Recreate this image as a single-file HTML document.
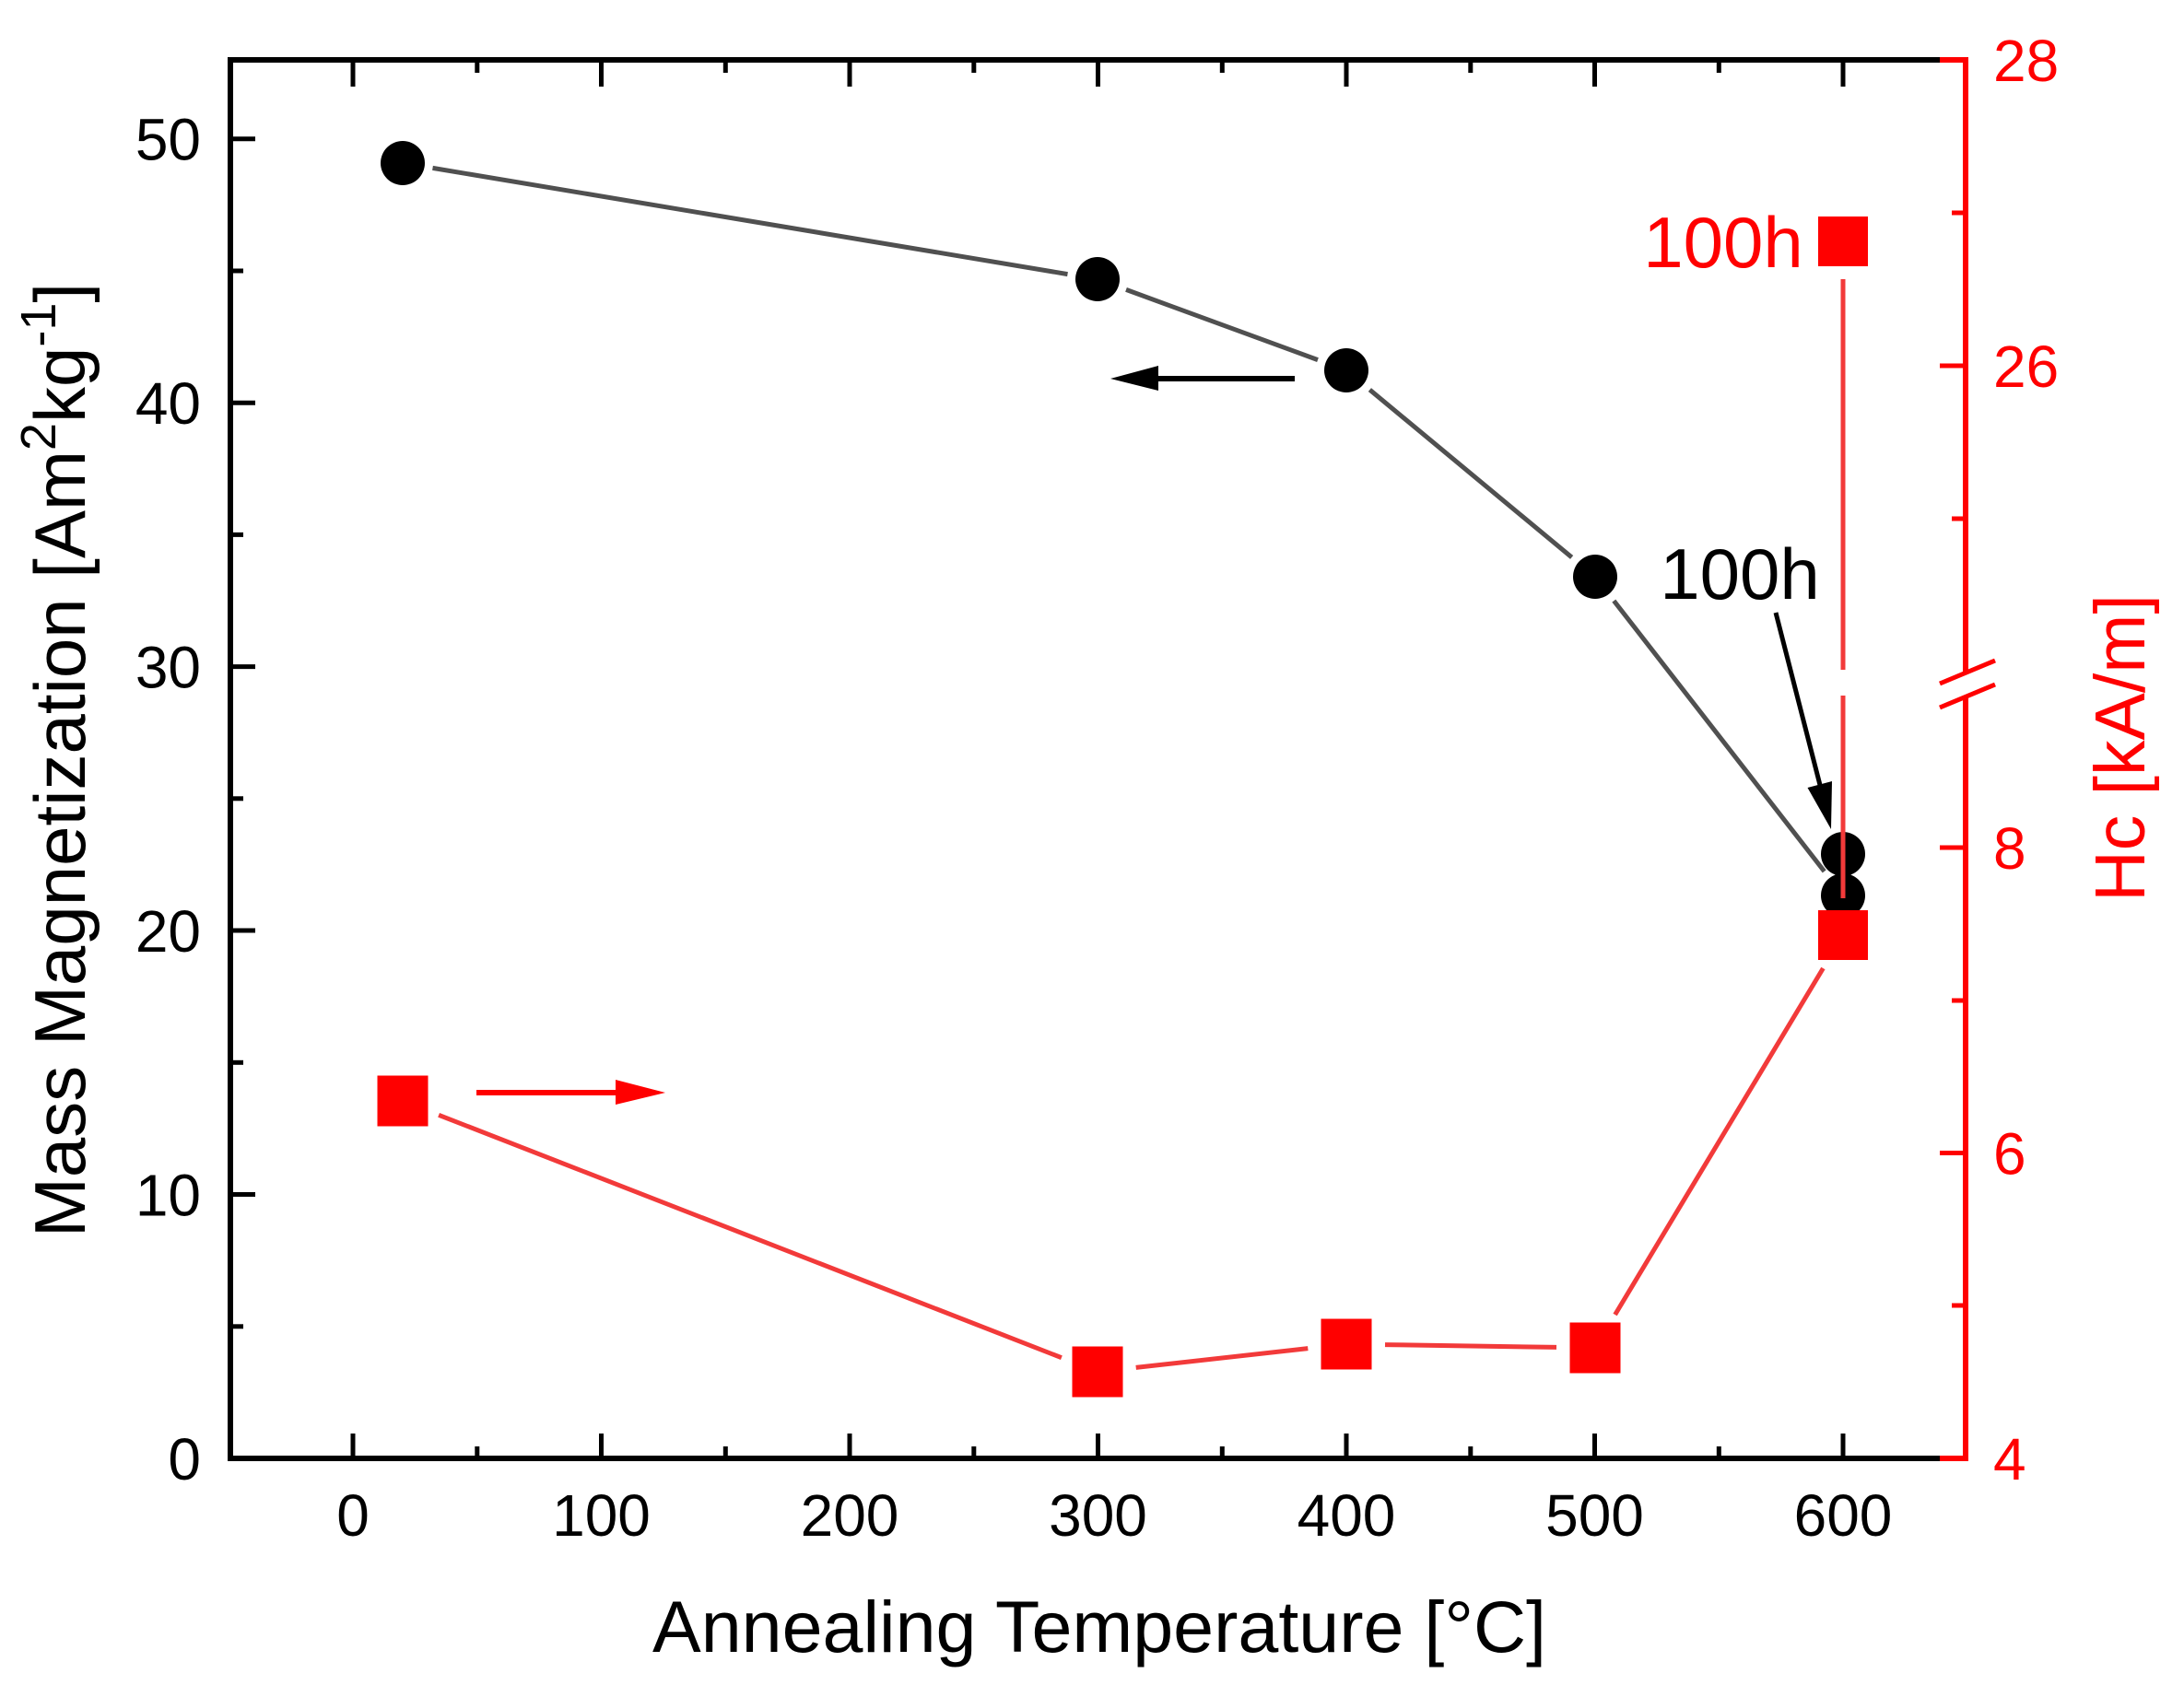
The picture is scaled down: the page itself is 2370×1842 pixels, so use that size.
<!DOCTYPE html>
<html>
<head>
<meta charset="utf-8">
<style>
  html, body { margin: 0; padding: 0; background: #ffffff; }
  svg { display: block; }
  text { font-family: "Liberation Sans", Arial, sans-serif; }
</style>
</head>
<body>
<svg width="2370" height="1842" viewBox="0 0 2370 1842" xmlns="http://www.w3.org/2000/svg">
  <rect x="0" y="0" width="2370" height="1842" fill="#ffffff"/>

  <!-- ===== Axes frame ===== -->
  <g stroke="#000" stroke-width="6" fill="none">
    <line x1="250" y1="62" x2="250" y2="1586"/>
    <line x1="247" y1="1583" x2="2106" y2="1583"/>
    <line x1="247" y1="65" x2="2106" y2="65"/>
  </g>
  <g stroke="#ff0000" stroke-width="6" fill="none">
    <line x1="2105" y1="1583" x2="2136" y2="1583"/>
    <line x1="2105" y1="65" x2="2136" y2="65"/>
    <!-- right axis with break -->
    <line x1="2133" y1="62" x2="2133" y2="730"/>
    <line x1="2133" y1="756" x2="2133" y2="1586"/>
    <!-- break marks -->
    <line x1="2105" y1="742" x2="2165" y2="717" stroke-width="5"/>
    <line x1="2105" y1="768" x2="2165" y2="743" stroke-width="5"/>
  </g>

  <!-- ===== Left axis ticks ===== -->
  <g stroke="#000" stroke-width="5">
    <!-- major -->
    <line x1="250" y1="1583" x2="277" y2="1583"/>
    <line x1="250" y1="1296.5" x2="277" y2="1296.5"/>
    <line x1="250" y1="1010" x2="277" y2="1010"/>
    <line x1="250" y1="723.6" x2="277" y2="723.6"/>
    <line x1="250" y1="437.2" x2="277" y2="437.2"/>
    <line x1="250" y1="150.7" x2="277" y2="150.7"/>
    <!-- minor -->
    <line x1="250" y1="1439.8" x2="264" y2="1439.8"/>
    <line x1="250" y1="1153.3" x2="264" y2="1153.3"/>
    <line x1="250" y1="866.8" x2="264" y2="866.8"/>
    <line x1="250" y1="580.4" x2="264" y2="580.4"/>
    <line x1="250" y1="294" x2="264" y2="294"/>
  </g>

  <!-- ===== Bottom & top axis ticks ===== -->
  <g stroke="#000" stroke-width="5">
    <!-- bottom major -->
    <line x1="383" y1="1583" x2="383" y2="1556"/>
    <line x1="652.5" y1="1583" x2="652.5" y2="1556"/>
    <line x1="922" y1="1583" x2="922" y2="1556"/>
    <line x1="1191.5" y1="1583" x2="1191.5" y2="1556"/>
    <line x1="1461" y1="1583" x2="1461" y2="1556"/>
    <line x1="1730.5" y1="1583" x2="1730.5" y2="1556"/>
    <line x1="2000" y1="1583" x2="2000" y2="1556"/>
    <!-- bottom minor -->
    <line x1="517.8" y1="1583" x2="517.8" y2="1570"/>
    <line x1="787.3" y1="1583" x2="787.3" y2="1570"/>
    <line x1="1056.8" y1="1583" x2="1056.8" y2="1570"/>
    <line x1="1326.3" y1="1583" x2="1326.3" y2="1570"/>
    <line x1="1595.8" y1="1583" x2="1595.8" y2="1570"/>
    <line x1="1865.3" y1="1583" x2="1865.3" y2="1570"/>
    <!-- top major -->
    <line x1="383" y1="65" x2="383" y2="94"/>
    <line x1="652.5" y1="65" x2="652.5" y2="94"/>
    <line x1="922" y1="65" x2="922" y2="94"/>
    <line x1="1191.5" y1="65" x2="1191.5" y2="94"/>
    <line x1="1461" y1="65" x2="1461" y2="94"/>
    <line x1="1730.5" y1="65" x2="1730.5" y2="94"/>
    <line x1="2000" y1="65" x2="2000" y2="94"/>
    <!-- top minor -->
    <line x1="517.8" y1="65" x2="517.8" y2="79"/>
    <line x1="787.3" y1="65" x2="787.3" y2="79"/>
    <line x1="1056.8" y1="65" x2="1056.8" y2="79"/>
    <line x1="1326.3" y1="65" x2="1326.3" y2="79"/>
    <line x1="1595.8" y1="65" x2="1595.8" y2="79"/>
    <line x1="1865.3" y1="65" x2="1865.3" y2="79"/>
  </g>

  <!-- ===== Right axis ticks (red, inward) ===== -->
  <g stroke="#ff0000" stroke-width="5">
    <line x1="2133" y1="1583" x2="2105" y2="1583"/>
    <line x1="2133" y1="1251.5" x2="2105" y2="1251.5"/>
    <line x1="2133" y1="920" x2="2105" y2="920"/>
    <line x1="2133" y1="397" x2="2105" y2="397"/>
    <line x1="2133" y1="65" x2="2105" y2="65"/>
    <line x1="2133" y1="1417" x2="2118" y2="1417"/>
    <line x1="2133" y1="1086" x2="2118" y2="1086"/>
    <line x1="2133" y1="563" x2="2118" y2="563"/>
    <line x1="2133" y1="231" x2="2118" y2="231"/>
  </g>

  <!-- ===== Tick labels ===== -->
  <g font-size="64" fill="#000" text-anchor="end">
    <text x="218" y="1606">0</text>
    <text x="218" y="1319.5">10</text>
    <text x="218" y="1033">20</text>
    <text x="218" y="746.6">30</text>
    <text x="218" y="460.2">40</text>
    <text x="218" y="173.7">50</text>
  </g>
  <g font-size="64" fill="#000" text-anchor="middle">
    <text x="383" y="1667">0</text>
    <text x="652.5" y="1667">100</text>
    <text x="922" y="1667">200</text>
    <text x="1191.5" y="1667">300</text>
    <text x="1461" y="1667">400</text>
    <text x="1730.5" y="1667">500</text>
    <text x="2000" y="1667">600</text>
  </g>
  <g font-size="64" fill="#ff0000" text-anchor="start">
    <text x="2163" y="1606">4</text>
    <text x="2163" y="1274.5">6</text>
    <text x="2163" y="943">8</text>
    <text x="2163" y="420">26</text>
    <text x="2163" y="88">28</text>
  </g>

  <!-- ===== Axis titles ===== -->
  <text x="1193" y="1793" font-size="79" fill="#000" text-anchor="middle">Annealing Temperature [°C]</text>
  <text transform="translate(92,825) rotate(-90)" font-size="78" fill="#000" text-anchor="middle">Mass Magnetization [Am<tspan font-size="54" dy="-32">2</tspan><tspan dy="32">kg</tspan><tspan font-size="54" dy="-32">-1</tspan><tspan dy="32">]</tspan></text>
  <text transform="translate(2327,812) rotate(-90)" font-size="77" fill="#ff0000" text-anchor="middle">Hc [kA/m]</text>

  <!-- ===== Black series line ===== -->
  <g stroke="#505050" stroke-width="5" fill="none" stroke-linecap="butt">
    <line x1="469.5" y1="182.4" x2="1158.5" y2="297.6"/>
    <line x1="1222" y1="314.4" x2="1430" y2="390.6"/>
    <line x1="1486.4" y1="423.1" x2="1705.6" y2="604.9"/>
    <line x1="1751.3" y1="652.1" x2="1979.7" y2="945.9"/>
  </g>

  <!-- ===== Black circles ===== -->
  <g fill="#000">
    <circle cx="437" cy="177" r="24"/>
    <circle cx="1191" cy="303" r="24"/>
    <circle cx="1461" cy="402" r="24"/>
    <circle cx="1731" cy="626" r="24"/>
    <circle cx="2000" cy="927" r="24"/>
    <circle cx="2000" cy="972" r="24"/>
  </g>

  <!-- ===== Red series line ===== -->
  <g stroke="#f23a3a" stroke-width="5" fill="none">
    <line x1="476.1" y1="1210.3" x2="1151.9" y2="1473.7"/>
    <line x1="1232.7" y1="1484.4" x2="1419.3" y2="1463.6"/>
    <line x1="1503" y1="1459.6" x2="1689" y2="1462.4"/>
    <line x1="1752.6" y1="1427" x2="1978.4" y2="1051"/>
    <line x1="2000" y1="975" x2="2000" y2="755"/>
    <line x1="2000" y1="727" x2="2000" y2="303"/>
  </g>

  <!-- ===== Red squares ===== -->
  <g fill="#ff0000">
    <rect x="409.5" y="1167.5" width="55" height="55"/>
    <rect x="1163.5" y="1461.5" width="55" height="55"/>
    <rect x="1433.5" y="1431.5" width="55" height="55"/>
    <rect x="1703.5" y="1435.5" width="55" height="55"/>
    <rect x="1973" y="988" width="54" height="54"/>
    <rect x="1973" y="235" width="54" height="54"/>
  </g>

  <!-- ===== Arrows ===== -->
  <!-- black left arrow -->
  <line x1="1405" y1="411" x2="1252" y2="411" stroke="#000" stroke-width="6"/>
  <polygon points="1205,411 1257,397 1257,424" fill="#000"/>
  <!-- red right arrow -->
  <line x1="517" y1="1186" x2="672" y2="1186" stroke="#ff0000" stroke-width="6"/>
  <polygon points="722,1186 668,1172 668,1199" fill="#ff0000"/>
  <!-- black diagonal arrow -->
  <line x1="1927" y1="665" x2="1976" y2="856" stroke="#000" stroke-width="5"/>
  <polygon points="1987,900 1988,848 1961.5,855" fill="#000"/>

  <!-- ===== Annotations ===== -->
  <text x="1888" y="650" font-size="78" fill="#000" text-anchor="middle">100h</text>
  <text x="1870" y="290" font-size="78" fill="#ff0000" text-anchor="middle">100h</text>
</svg>
</body>
</html>
